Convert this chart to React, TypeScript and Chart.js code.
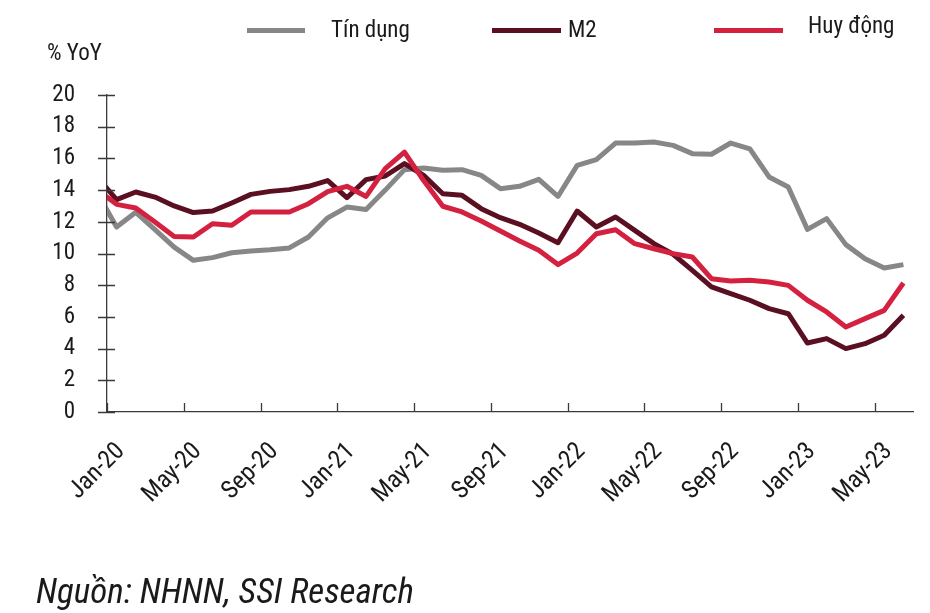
import React, { useEffect, useRef } from "react";
import { Chart, registerables } from "chart.js";

Chart.register(...registerables);

// Monthly YoY growth (%), Dec-19 .. Jun-23 (first point sits before the axis start and is clipped)
const months = [
  "Dec-19",
  "Jan-20", "Feb-20", "Mar-20", "Apr-20", "May-20", "Jun-20", "Jul-20", "Aug-20", "Sep-20", "Oct-20", "Nov-20", "Dec-20",
  "Jan-21", "Feb-21", "Mar-21", "Apr-21", "May-21", "Jun-21", "Jul-21", "Aug-21", "Sep-21", "Oct-21", "Nov-21", "Dec-21",
  "Jan-22", "Feb-22", "Mar-22", "Apr-22", "May-22", "Jun-22", "Jul-22", "Aug-22", "Sep-22", "Oct-22", "Nov-22", "Dec-22",
  "Jan-23", "Feb-23", "Mar-23", "Apr-23", "May-23", "Jun-23",
];

const tinDung = [
  13.8,
  11.67, 12.6, 11.5, 10.4, 9.57, 9.74, 10.05, 10.16, 10.24, 10.35, 11.04, 12.25,
  12.93, 12.77, 14.0, 15.29, 15.4, 15.25, 15.29, 14.93, 14.09, 14.24, 14.68, 13.6,
  15.56, 15.92, 16.97, 16.97, 17.03, 16.82, 16.3, 16.26, 16.97, 16.6, 14.83, 14.2,
  11.52, 12.2, 10.56, 9.67, 9.09, 9.3,
];

const m2 = [
  14.8,
  13.4, 13.88, 13.56, 13.0, 12.58, 12.68, 13.19, 13.73, 13.92, 14.03, 14.24, 14.6,
  13.52, 14.66, 14.89, 15.67, 14.93, 13.77, 13.67, 12.83, 12.26, 11.84, 11.29, 10.68,
  12.68, 11.67, 12.3, 11.46, 10.62, 9.95, 8.94, 7.89, 7.47, 7.05, 6.52, 6.2,
  4.35, 4.63, 4.0, 4.31, 4.84, 6.1,
];

const huyDong = [
  14.0,
  13.1, 12.87, 11.99, 11.08, 11.04, 11.88, 11.78, 12.62, 12.62, 12.62, 13.14, 13.9,
  14.24, 13.6, 15.35, 16.4, 14.6, 12.98, 12.62, 12.05, 11.42, 10.79, 10.2, 9.3,
  10.03, 11.25, 11.5, 10.62, 10.3, 9.99, 9.78, 8.41, 8.26, 8.31, 8.2, 7.99,
  7.05, 6.31, 5.36, 5.89, 6.41, 8.14,
];

const xTickLabels = [
  "Jan-20", "May-20", "Sep-20", "Jan-21", "May-21", "Sep-21",
  "Jan-22", "May-22", "Sep-22", "Jan-23", "May-23",
];

const seriesNames = ["Tín dụng", "M2", "Huy động"];
const seriesColors = ["#878787", "#5a1020", "#d42140"];

const yTitle = "% YoY";
const sourceText = "Nguồn: NHNN, SSI Research";

const FONT = "'Roboto Condensed', 'DejaVu Sans Condensed', sans-serif";

// months are placed at the centre of their month interval; Jan-20 interval starts at 0
const toPoints = (arr: number[]) => arr.map((v, i) => ({ x: i - 0.5, y: v }));

const decorPlugin = {
  id: "decor",
  afterDraw(chart: any) {
    const { ctx, chartArea, scales } = chart;
    const xs = scales.x;
    const ys = scales.y;
    ctx.save();
    // tick marks
    ctx.strokeStyle = "#3a3a3a";
    ctx.lineWidth = 1.3;
    ctx.beginPath();
    ys.ticks.forEach((t: any) => {
      const y = Math.round(ys.getPixelForValue(t.value)) + 0.5;
      ctx.moveTo(chartArea.left - 9, y);
      ctx.lineTo(chartArea.left + 8, y);
    });
    xs.ticks.forEach((t: any) => {
      const x = Math.round(xs.getPixelForValue(t.value)) + 0.5;
      ctx.moveTo(x, chartArea.bottom);
      ctx.lineTo(x, chartArea.bottom - 9);
    });
    ctx.stroke();

    // y title
    ctx.fillStyle = "#1a1a1a";
    ctx.font = `23px ${FONT}`;
    ctx.textAlign = "left";
    ctx.textBaseline = "middle";
    ctx.fillText(yTitle, 47, 54);

    // legend
    const legendLineX = [[247, 305], [492, 561], [714, 783]];
    const legendTextX = [331, 568, 808];
    const legendY = [30.5, 30.5, 30.5];
    const legendTextY = [31, 31, 27];
    seriesNames.forEach((name, i) => {
      ctx.strokeStyle = seriesColors[i];
      ctx.lineWidth = 5;
      ctx.lineCap = "butt";
      ctx.beginPath();
      ctx.moveTo(legendLineX[i][0], legendY[i]);
      ctx.lineTo(legendLineX[i][1], legendY[i]);
      ctx.stroke();
      ctx.fillStyle = "#1a1a1a";
      ctx.font = `23px ${FONT}`;
      ctx.fillText(name, legendTextX[i], legendTextY[i]);
    });

    // source
    ctx.font = `italic 35px ${FONT}`;
    ctx.textBaseline = "alphabetic";
    ctx.fillText(sourceText, 36, 603);
    ctx.restore();
  },
};

export default function App() {
  const canvasRef = useRef<HTMLCanvasElement | null>(null);

  useEffect(() => {
    document.body.style.margin = "0";
    const canvas = canvasRef.current;
    if (!canvas) return;
    const datasets = [tinDung, m2, huyDong].map((arr, i) => ({
      label: seriesNames[i],
      data: toPoints(arr),
      borderColor: seriesColors[i],
      backgroundColor: seriesColors[i],
      borderWidth: 5,
      pointRadius: 0,
      tension: 0,
      borderJoinStyle: "round" as const,
      clip: 0,
      order: 3 - i,
    }));

    const chart = new Chart(canvas, {
      type: "line",
      data: { datasets },
      options: {
        animation: false,
        responsive: false,
        maintainAspectRatio: false,
        layout: { padding: { left: 0, right: 17, top: 95, bottom: 0 } },
        plugins: {
          legend: { display: false },
          tooltip: { enabled: false },
          title: { display: false },
        },
        scales: {
          x: {
            type: "linear",
            min: 0,
            max: 42,
            afterFit: (s: any) => {
              s.height = 201;
            },
            grid: { display: true, drawOnChartArea: false, drawTicks: false },
            border: { display: true, color: "#3a3a3a", width: 1.3 },
            ticks: {
              stepSize: 4,
              includeBounds: false,
              autoSkip: false,
              minRotation: 45,
              maxRotation: 45,
              padding: 25,
              labelOffset: 14,
              color: "#1a1a1a",
              font: { family: FONT, size: 25 },
              callback: (v: any) => {
                const idx = Math.round(Number(v) / 4);
                return Number(v) % 4 === 0 ? xTickLabels[idx] ?? "" : "";
              },
            },
          },
          y: {
            type: "linear",
            min: 0,
            max: 20,
            afterFit: (s: any) => {
              s.width = 107;
            },
            grid: { display: true, drawOnChartArea: false, drawTicks: false },
            border: { display: true, color: "#3a3a3a", width: 1.3 },
            ticks: {
              stepSize: 2,
              padding: 32,
              color: "#1a1a1a",
              font: { family: FONT, size: 23 },
            },
          },
        },
      },
      plugins: [decorPlugin],
    });
    return () => chart.destroy();
  }, []);

  return (
    <div style={{ position: "absolute", left: 0, top: 0, width: 930, height: 613, background: "#fff" }}>
      <canvas ref={canvasRef} width={930} height={613} style={{ width: 930, height: 613, display: "block" }} />
    </div>
  );
}
